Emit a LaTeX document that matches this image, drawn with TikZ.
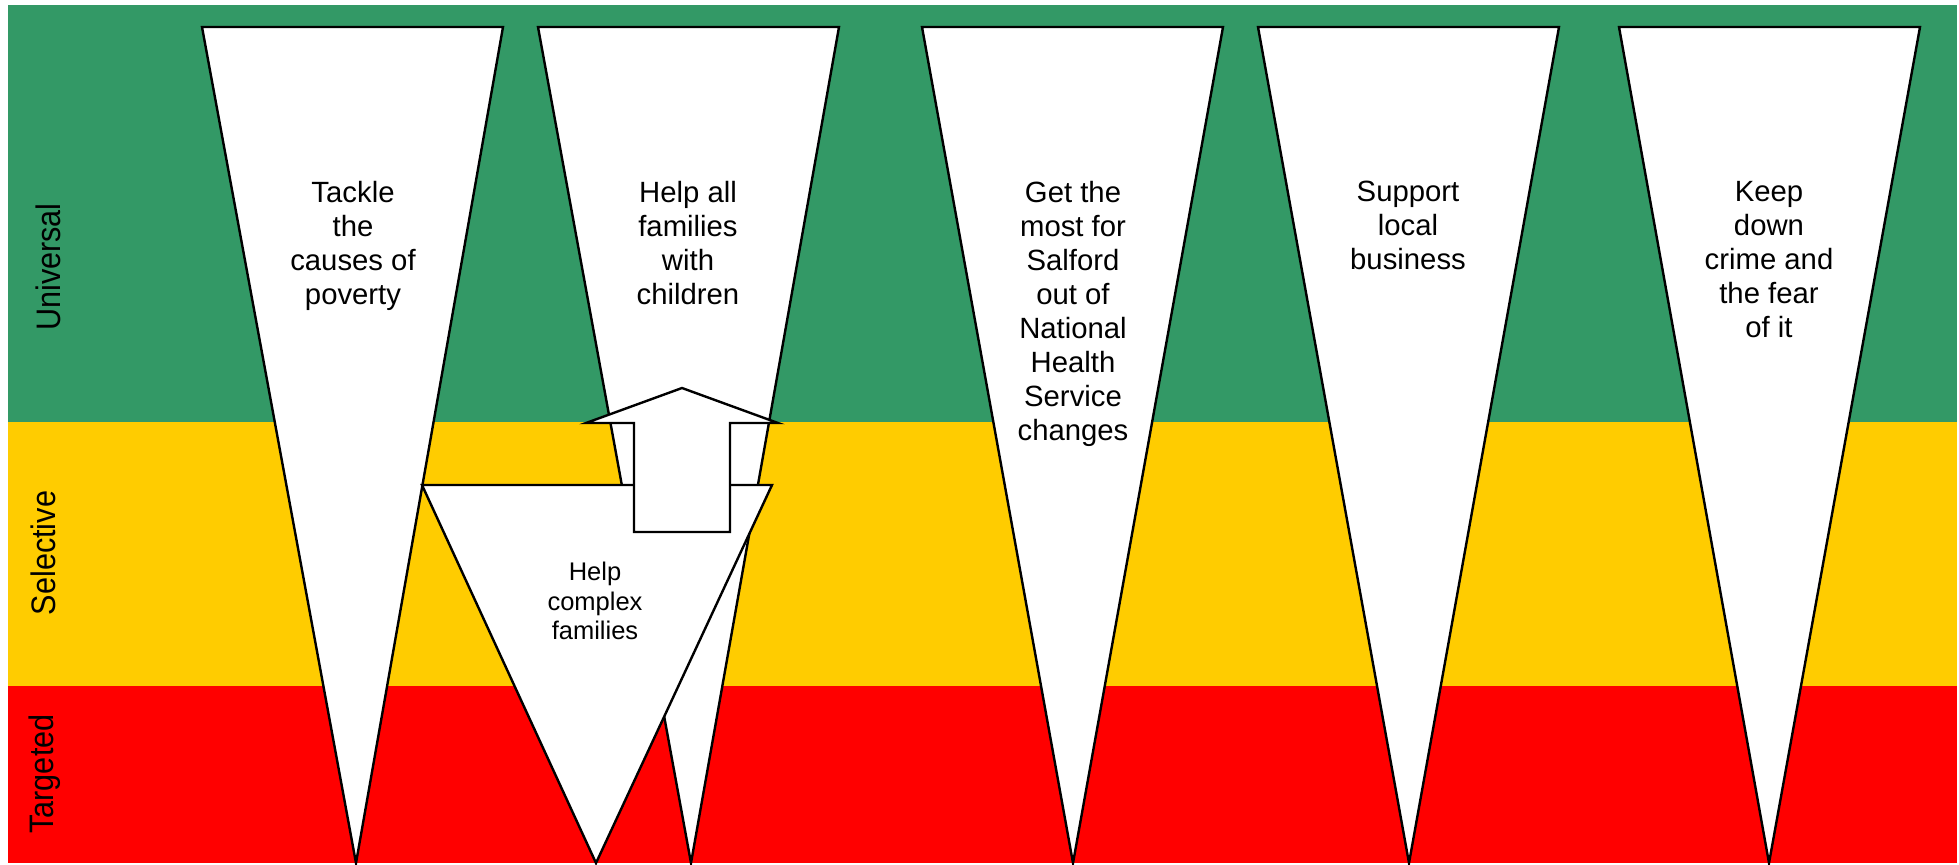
\documentclass[tikz,border=0pt]{standalone}
\usepackage{fontspec}
\setmainfont{Liberation Sans}
\definecolor{ugreen}{RGB}{51,153,102}
\definecolor{syellow}{RGB}{255,204,0}
\definecolor{tred}{RGB}{255,0,0}
\begin{document}
\begin{tikzpicture}[x=0.5pt,y=-0.5pt,
  wedge/.style={fill=white,draw=black,line width=1.2pt,line join=miter},
  goal/.style={align=center,inner sep=0pt,anchor=north,font=\fontsize{14.65pt}{17pt}\selectfont},
  smallgoal/.style={align=center,inner sep=0pt,anchor=north,font=\fontsize{12.75pt}{14.75pt}\selectfont},
  sidelabel/.style={rotate=90,anchor=base,inner sep=0pt,font=\fontsize{17pt}{20pt}\selectfont}]
\useasboundingbox (0,0) rectangle (1959,864);
% bands
\fill[ugreen] (8,5) rectangle (1957,422);
\fill[syellow] (8,422) rectangle (1957,686);
\fill[tred] (8,686) rectangle (1957,863);
% side labels
\node[sidelabel] (uni) at (61,267) {\scalebox{0.9}[1]{Universal}};
\node[sidelabel] (sel) at (55,553) {\scalebox{0.9}[1]{Selective}};
\node[sidelabel] (tar) at (54,774) {\scalebox{0.9}[1]{Targeted}};
% wedges
\draw[wedge] (202,27) -- (503,27) -- (356,863) -- cycle;
\draw[wedge] (538,27) -- (839,27) -- (691,863) -- cycle;
\draw[wedge] (922,27) -- (1223,27) -- (1073,863) -- cycle;
\draw[wedge] (1258,27) -- (1559,27) -- (1409,863) -- cycle;
\draw[wedge] (1619,27) -- (1920,27) -- (1769,863) -- cycle;
% complex families wedge
\draw[wedge] (422,485) -- (772,485) -- (596,863) -- cycle;
% up arrow
\draw[wedge] (682,388) -- (778,423) -- (730,423) -- (730,532) -- (634,532) -- (634,423) -- (586,423) -- cycle;
% texts
\node[goal] (g1) at (353,181) {Tackle\\the\\causes of\\poverty};
\node[goal] (g2) at (688,181) {Help all\\families\\with\\children};
\node[goal] (g3) at (1073,181) {Get the\\most for\\Salford\\out of\\National\\Health\\Service\\changes};
\node[goal] (g4) at (1408,181) {Support\\local\\business};
\node[goal] (g5) at (1769,181) {Keep\\down\\crime and\\the fear\\of it};
\node[smallgoal] (g6) at (595,562) {Help\\complex\\families};
\end{tikzpicture}
\end{document}
